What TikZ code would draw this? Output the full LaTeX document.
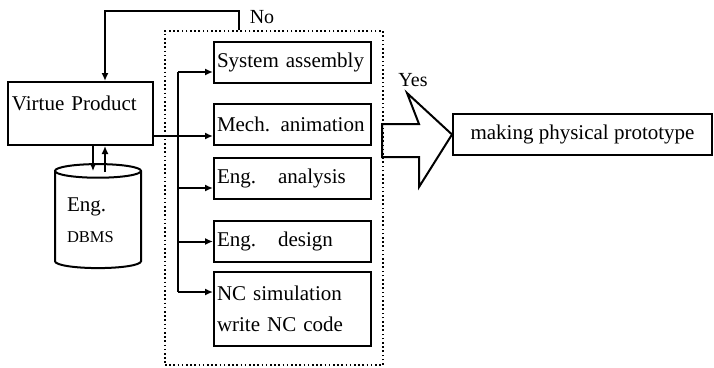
\documentclass[tikz,border=0pt]{standalone}
\usepackage{fontspec}
\setmainfont{Liberation Serif}
\usetikzlibrary{shapes.geometric,arrows.meta}

\begin{document}
\begin{tikzpicture}[x=1pt,y=-1pt,line width=2pt,>={Latex[length=8pt,width=7pt]},
every node/.style={font=\fontsize{21}{31}\selectfont},
stage/.style={draw,rectangle,text width=151pt,inner sep=3pt,minimum height=41pt,align=left},
group/.style={draw,dash pattern=on 1.6pt off 2.6pt,line width=1.5pt,inner sep=0pt,minimum width=218pt,minimum height=334pt}]

\useasboundingbox (0,0) rectangle (714,367);

\node[group] (grp) at (274,198) {};

\node[draw,rectangle,text width=137pt,inner sep=4pt,text height=24pt,text depth=31pt,align=left] (vp) at (80.5,113.5) {Virtue Product};

\node[draw,cylinder,shape border rotate=90,aspect=0.22,minimum width=86pt,minimum height=104pt,text width=62pt,align=left,inner sep=0pt] (db) at (98,220) {Eng.\\{\fontsize{16.5}{31}\selectfont DBMS}};

\node[stage] (sa) at (292.5,62.5) {System assembly};

\node[stage] (ma) at (292.5,124.5) {Mech. animation};

\node[stage] (ea) at (292.5,178) {Eng.\hspace{0.55em} analysis};

\node[stage] (ed) at (292.5,241.5) {Eng.\hspace{0.55em} design};

\node[stage,minimum height=74pt] (nc) at (292.5,309) {NC simulation\\write NC code};

\node[draw,rectangle,minimum width=259pt,minimum height=41pt] (pp) at (582.5,134.5) {making physical prototype};

\node[font=\fontsize{20}{24}\selectfont] (no) at (262,17) {No};

\node[font=\fontsize{20}{24}\selectfont] (yes) at (413,80) {Yes};

\coordinate (bus) at (178,0);
\path ([yshift=-9.5pt]sa.west) coordinate (tsa);
\path ([yshift=-11.5pt]ma.west) coordinate (tma);
\path ([yshift=-10pt]ea.west) coordinate (tea);
\path (ed.west) coordinate (ted);
\path ([yshift=17pt]nc.west) coordinate (tnc);

\draw[->] ([xshift=-35pt]grp.north) -- ++(0,-19) -| ([xshift=24.5pt]vp.north);
\draw[->] (tma -| vp.east) -- (tma);
\draw (tsa -| bus) -- (tnc -| bus);
\foreach \t in {tsa,tea,ted,tnc}
  \draw[->] (\t -| bus) -- (\t);

\coordinate (dbl) at ([xshift=-5pt,yshift=-8pt]db.north);
\coordinate (dbr) at ([xshift=7pt,yshift=-9pt]db.north);
\draw[->,line width=1.5pt] (vp.south -| dbl) -- (dbl);
\draw[->,line width=1.5pt] (dbr) -- (dbr |- vp.south);

\draw (382,124) -- (419,124) -- (407,93) -- (pp.west) -- (419,187) -- (419,157) -- (382,157) -- cycle;
\end{tikzpicture}
\end{document}
